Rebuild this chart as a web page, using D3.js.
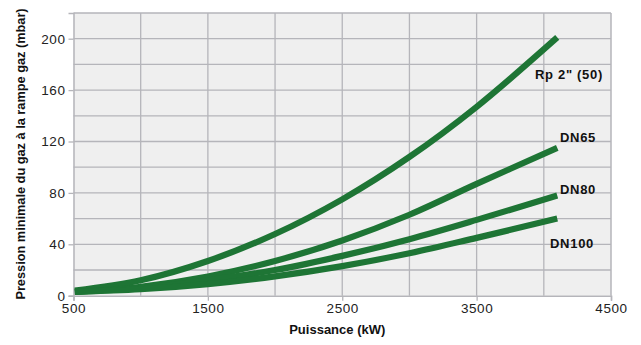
<!DOCTYPE html>
<html><head><meta charset="utf-8">
<script src="https://cdn.jsdelivr.net/npm/d3@7"></script>
<style>
html,body{margin:0;padding:0;background:#fff;}
svg{display:block;font-family:"Liberation Sans",Arial,Helvetica,sans-serif;}
</style></head>
<body><svg id="c" width="641" height="345"></svg>
<script>
const powerKW = [510, 1000, 1500, 2000, 2500, 3000, 3500, 4100];
const seriesNames = ['Rp 2" (50)', "DN65", "DN80", "DN100"];
const rp2 = [4, 12, 27, 48, 75, 108, 147, 201];
const dn65 = [3, 7, 15, 27, 43, 63, 87, 115];
const dn80 = [3, 6, 12, 20, 31, 44, 59, 78];
const dn100 = [3, 5, 9, 15, 23, 33, 45, 60];
const xTicks = [500, 1500, 2500, 3500, 4500];
const yTicks = [0, 40, 80, 120, 160, 200];
const xTitle = "Puissance (kW)";
const yTitle = "Pression minimale du gaz à la rampe gaz (mbar)";

const seriesValues = [rp2, dn65, dn80, dn100];
const svg = d3.select("#c");
const L = 73.5, R = 611, T = 13, B = 295.7;
const x = d3.scaleLinear().domain([500, 4500]).range([L, R]);
const y = d3.scaleLinear().domain([0, 220]).range([B, T]);
const gridCol = "#b5b5ba";

svg.append("rect").attr("x", L).attr("y", T).attr("width", R - L).attr("height", B - T).attr("fill", "#efefef");

// grid
const g = svg.append("g");
g.selectAll("line.v").data(d3.range(1000, 4500, 500)).join("line")
  .attr("x1", d => x(d)).attr("x2", d => x(d)).attr("y1", T).attr("y2", B)
  .attr("stroke", gridCol).attr("stroke-width", 1.3);
g.selectAll("line.h").data(d3.range(20, 221, 20)).join("line")
  .attr("y1", d => y(d)).attr("y2", d => y(d)).attr("x1", L).attr("x2", R)
  .attr("stroke", gridCol).attr("stroke-width", 1.3);
svg.append("line").attr("x1", R).attr("x2", R).attr("y1", T).attr("y2", B).attr("stroke", gridCol).attr("stroke-width", 1.5);

// axes
const xAxis = svg.append("g").attr("transform", `translate(0,${B})`)
  .call(d3.axisBottom(x).tickValues(xTicks).tickFormat(d3.format("d")).tickSize(5).tickPadding(3));
const yAxis = svg.append("g").attr("transform", `translate(${L},0)`)
  .call(d3.axisLeft(y).tickValues(yTicks).tickFormat(d3.format("d")).tickSize(5).tickPadding(3));
[xAxis, yAxis].forEach(a => {
  a.select(".domain").attr("stroke", gridCol).attr("stroke-width", 1.5);
  a.selectAll(".tick line").attr("stroke", gridCol).attr("stroke-width", 1.3);
  a.selectAll("text").attr("fill", "#222").attr("font-size", 13.5)
    .attr("letter-spacing", "0.6px")
    .attr("font-family", '"Liberation Sans",Arial,sans-serif');
});

// lines
const line = d3.line().x((d, i) => x(powerKW[i])).y(d => y(d)).curve(d3.curveCatmullRom.alpha(0.5));
svg.append("g").selectAll("path").data(seriesValues).join("path")
  .attr("d", d => line(d)).attr("fill", "none").attr("stroke", "#1e7535")
  .attr("stroke-width", 6.2).attr("stroke-linecap", "butt").attr("stroke-linejoin", "round");

// labels
const labelPos = [[603, 74], [596, 137], [596, 189], [594, 243]];
svg.append("g").selectAll("text").data(seriesNames).join("text")
  .attr("x", (d, i) => labelPos[i][0]).attr("y", (d, i) => labelPos[i][1])
  .attr("dy", "0.36em").attr("text-anchor", "end")
  .attr("font-weight", "bold").attr("font-size", 13).attr("letter-spacing", "0.7px")
  .attr("fill", "#111").text(d => d);

// titles
svg.append("text").attr("x", (L + R) / 2 - 5).attr("y", 334).attr("text-anchor", "middle")
  .attr("font-weight", "bold").attr("font-size", 13).attr("fill", "#111").text(xTitle);
svg.append("text").attr("transform", `translate(25,154) rotate(-90)`).attr("text-anchor", "middle")
  .attr("font-weight", "bold").attr("font-size", 12.75).attr("fill", "#111").text(yTitle);
</script></body></html>
